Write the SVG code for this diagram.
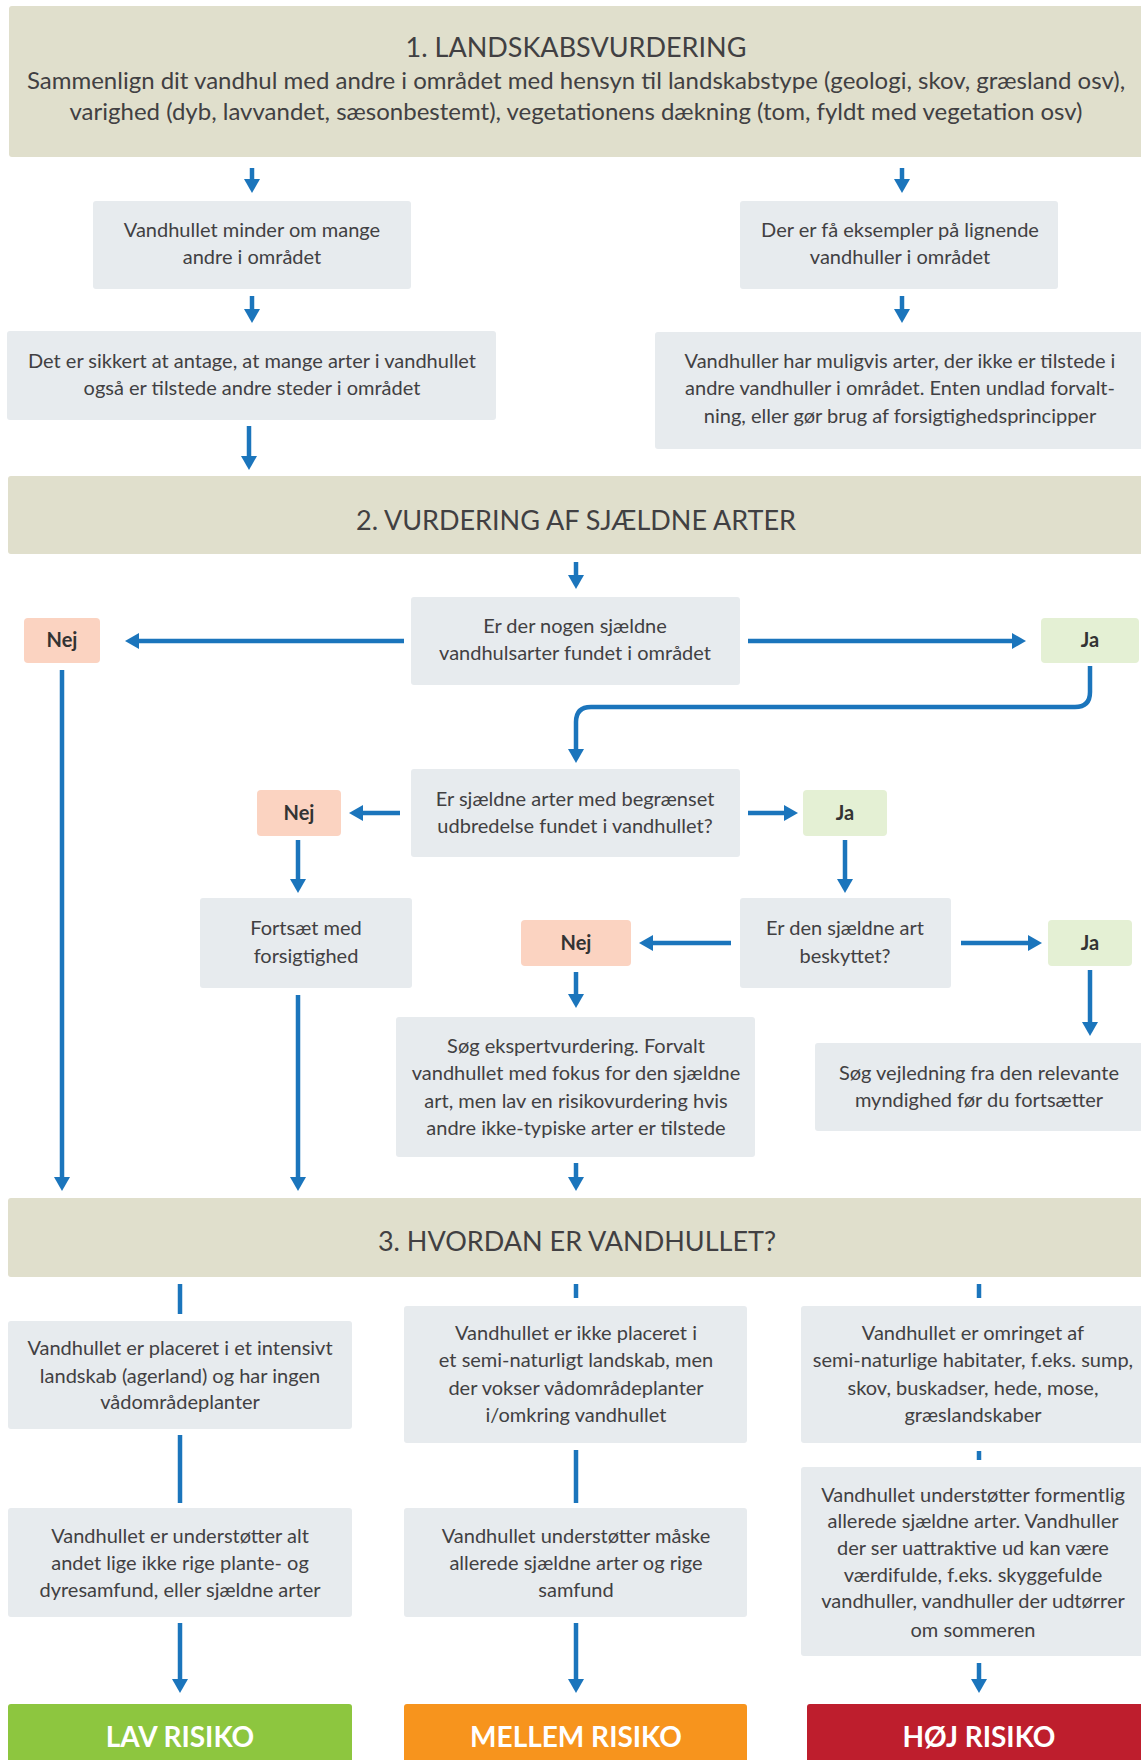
<svg xmlns="http://www.w3.org/2000/svg" width="1141" height="1760" viewBox="0 0 1141 1760">
<style>
.hdr{fill:#e0dfcc}
.box{fill:#e7ebee}
.nej{fill:#fbd3c1}
.ja{fill:#e4f0d4}
text{font-family:Lato,"Liberation Sans",sans-serif;fill:#414042;text-anchor:middle}
.t{font-size:20px}
.h{font-size:27px}
.hs{font-size:24px}
.lab{font-size:20px;font-weight:bold;fill:#333}
.risk{font-size:28px;font-weight:bold;fill:#fff}
.c{fill:none;stroke:#1b75bc;stroke-width:4.5}
.a{marker-end:url(#ah)}
</style>
<defs>
<marker id="ah" viewBox="0 0 14 16" markerWidth="14" markerHeight="16" refX="4" refY="8" orient="auto" markerUnits="userSpaceOnUse">
<path d="M0,0 L14,8 L0,16 z" fill="#1b75bc"/>
</marker>
</defs>

<g id="connectors">
<line class="c a" x1="252" y1="168" x2="252" y2="183"/>
<line class="c a" x1="902" y1="168" x2="902" y2="183"/>
<line class="c a" x1="252" y1="296" x2="252" y2="313"/>
<line class="c a" x1="902" y1="296" x2="902" y2="313"/>
<line class="c a" x1="249" y1="426" x2="249" y2="460"/>
<line class="c a" x1="576" y1="562" x2="576" y2="579"/>
<line class="c a" x1="404" y1="641" x2="135" y2="641"/>
<line class="c a" x1="748" y1="641" x2="1016" y2="641"/>
<line class="c a" x1="62" y1="670" x2="62" y2="1181"/>
<path class="c a" d="M1090,666 V692 Q1090,707 1075,707 H591 Q576,707 576,722 V753"/>
<line class="c a" x1="400" y1="813" x2="359" y2="813"/>
<line class="c a" x1="748" y1="813" x2="788" y2="813"/>
<line class="c a" x1="298" y1="840" x2="298" y2="883"/>
<line class="c a" x1="845" y1="840" x2="845" y2="883"/>
<line class="c a" x1="731" y1="943" x2="649" y2="943"/>
<line class="c a" x1="961" y1="943" x2="1032" y2="943"/>
<line class="c a" x1="576" y1="972" x2="576" y2="998"/>
<line class="c a" x1="1090" y1="970" x2="1090" y2="1026"/>
<line class="c a" x1="298" y1="995" x2="298" y2="1181"/>
<line class="c a" x1="576" y1="1163" x2="576" y2="1181"/>
<line class="c" x1="180" y1="1284" x2="180" y2="1314"/>
<line class="c" x1="576" y1="1284" x2="576" y2="1298"/>
<line class="c" x1="979" y1="1284" x2="979" y2="1298"/>
<line class="c" x1="180" y1="1435" x2="180" y2="1503"/>
<line class="c" x1="576" y1="1450" x2="576" y2="1503"/>
<line class="c" x1="979" y1="1451" x2="979" y2="1460"/>
<line class="c a" x1="180" y1="1623" x2="180" y2="1683"/>
<line class="c a" x1="576" y1="1623" x2="576" y2="1683"/>
<line class="c a" x1="979" y1="1663" x2="979" y2="1683"/>
</g>

<g id="header1">
<rect class="hdr" x="9" y="6" width="1140" height="151" rx="3"/>
<text class="h" x="576" y="57">1. LANDSKABSVURDERING</text>
<text class="hs" x="576" y="89">Sammenlign dit vandhul med andre i området med hensyn til landskabstype (geologi, skov, græsland osv),</text>
<text class="hs" x="576" y="120">varighed (dyb, lavvandet, sæsonbestemt), vegetationens dækning (tom, fyldt med vegetation osv)</text>
</g>

<g id="a1">
<rect class="box" x="93" y="201" width="318" height="88" rx="3"/>
<text class="t" x="252" y="237">Vandhullet minder om mange</text>
<text class="t" x="252" y="264">andre i området</text>
</g>
<g id="b1">
<rect class="box" x="740" y="201" width="318" height="88" rx="3"/>
<text class="t" x="900" y="237">Der er få eksempler på lignende</text>
<text class="t" x="900" y="264">vandhuller i området</text>
</g>
<g id="a2">
<rect class="box" x="7" y="331" width="489" height="89" rx="3"/>
<text class="t" x="252" y="368">Det er sikkert at antage, at mange arter i vandhullet</text>
<text class="t" x="252" y="395">også er tilstede andre steder i området</text>
</g>
<g id="b2">
<rect class="box" x="655" y="332" width="490" height="117" rx="3"/>
<text class="t" x="900" y="368">Vandhuller har muligvis arter, der ikke er tilstede i</text>
<text class="t" x="900" y="395">andre vandhuller i området. Enten undlad forvalt-</text>
<text class="t" x="900" y="423">ning, eller gør brug af forsigtighedsprincipper</text>
</g>

<g id="header2">
<rect class="hdr" x="8" y="476" width="1140" height="78" rx="3"/>
<text class="h" x="576" y="530">2. VURDERING AF SJÆLDNE ARTER</text>
</g>

<g id="q1">
<rect class="box" x="411" y="597" width="329" height="88" rx="3"/>
<text class="t" x="575" y="633">Er der nogen sjældne</text>
<text class="t" x="575" y="660">vandhulsarter fundet i området</text>
</g>
<g id="nej1">
<rect class="nej" x="24" y="618" width="76" height="45" rx="4"/>
<text class="lab" x="62" y="647">Nej</text>
</g>
<g id="ja1">
<rect class="ja" x="1041" y="618" width="98" height="45" rx="4"/>
<text class="lab" x="1090" y="647">Ja</text>
</g>

<g id="q2">
<rect class="box" x="411" y="769" width="329" height="88" rx="3"/>
<text class="t" x="575" y="806">Er sjældne arter med begrænset</text>
<text class="t" x="575" y="833">udbredelse fundet i vandhullet?</text>
</g>
<g id="nej2">
<rect class="nej" x="257" y="790" width="84" height="46" rx="4"/>
<text class="lab" x="299" y="820">Nej</text>
</g>
<g id="ja2">
<rect class="ja" x="803" y="790" width="84" height="46" rx="4"/>
<text class="lab" x="845" y="820">Ja</text>
</g>

<g id="f">
<rect class="box" x="200" y="898" width="212" height="90" rx="3"/>
<text class="t" x="306" y="935">Fortsæt med</text>
<text class="t" x="306" y="963">forsigtighed</text>
</g>
<g id="q3">
<rect class="box" x="740" y="898" width="211" height="90" rx="3"/>
<text class="t" x="845" y="935">Er den sjældne art</text>
<text class="t" x="845" y="963">beskyttet?</text>
</g>
<g id="nej3">
<rect class="nej" x="521" y="920" width="110" height="46" rx="4"/>
<text class="lab" x="576" y="950">Nej</text>
</g>
<g id="ja3">
<rect class="ja" x="1048" y="920" width="84" height="46" rx="4"/>
<text class="lab" x="1090" y="950">Ja</text>
</g>

<g id="s">
<rect class="box" x="396" y="1017" width="359" height="140" rx="3"/>
<text class="t" x="576" y="1053">Søg ekspertvurdering. Forvalt</text>
<text class="t" x="576" y="1080">vandhullet med fokus for den sjældne</text>
<text class="t" x="576" y="1108">art, men lav en risikovurdering hvis</text>
<text class="t" x="576" y="1135">andre ikke-typiske arter er tilstede</text>
</g>
<g id="v">
<rect class="box" x="815" y="1043" width="330" height="88" rx="3"/>
<text class="t" x="979" y="1080">Søg vejledning fra den relevante</text>
<text class="t" x="979" y="1107">myndighed før du fortsætter</text>
</g>

<g id="header3">
<rect class="hdr" x="8" y="1198" width="1140" height="79" rx="3"/>
<text class="h" x="577" y="1251">3. HVORDAN ER VANDHULLET?</text>
</g>

<g id="l1">
<rect class="box" x="8" y="1321" width="344" height="108" rx="3"/>
<text class="t" x="180" y="1355">Vandhullet er placeret i et intensivt</text>
<text class="t" x="180" y="1383">landskab (agerland) og har ingen</text>
<text class="t" x="180" y="1409">vådområdeplanter</text>
</g>
<g id="m1">
<rect class="box" x="404" y="1306" width="343" height="137" rx="3"/>
<text class="t" x="576" y="1340">Vandhullet er ikke placeret i</text>
<text class="t" x="576" y="1367">et semi-naturligt landskab, men</text>
<text class="t" x="576" y="1395">der vokser  vådområdeplanter</text>
<text class="t" x="576" y="1422">i/omkring vandhullet</text>
</g>
<g id="h1">
<rect class="box" x="801" y="1306" width="344" height="137" rx="3"/>
<text class="t" x="973" y="1340">Vandhullet er omringet af</text>
<text class="t" x="973" y="1367">semi-naturlige habitater, f.eks. sump,</text>
<text class="t" x="973" y="1395">skov, buskadser, hede, mose,</text>
<text class="t" x="973" y="1422">græslandskaber</text>
</g>

<g id="l2">
<rect class="box" x="8" y="1508" width="344" height="109" rx="3"/>
<text class="t" x="180" y="1543">Vandhullet er understøtter alt</text>
<text class="t" x="180" y="1570">andet lige ikke rige plante- og</text>
<text class="t" x="180" y="1597">dyresamfund, eller sjældne arter</text>
</g>
<g id="m2">
<rect class="box" x="404" y="1508" width="343" height="109" rx="3"/>
<text class="t" x="576" y="1543">Vandhullet understøtter måske</text>
<text class="t" x="576" y="1570">allerede sjældne arter og rige</text>
<text class="t" x="576" y="1597">samfund</text>
</g>
<g id="h2">
<rect class="box" x="801" y="1467" width="344" height="189" rx="3"/>
<text class="t" x="973" y="1502">Vandhullet understøtter formentlig</text>
<text class="t" x="973" y="1528">allerede sjældne arter. Vandhuller</text>
<text class="t" x="973" y="1555">der ser uattraktive ud kan være</text>
<text class="t" x="973" y="1582">værdifulde, f.eks. skyggefulde</text>
<text class="t" x="973" y="1608">vandhuller, vandhuller der udtørrer</text>
<text class="t" x="973" y="1637">om sommeren</text>
</g>

<g id="lav">
<rect x="8" y="1704" width="344" height="70" rx="3" fill="#8dc63f"/>
<text class="risk" x="180" y="1747">LAV RISIKO</text>
</g>
<g id="mellem">
<rect x="404" y="1704" width="343" height="70" rx="3" fill="#f7941d"/>
<text class="risk" x="576" y="1747">MELLEM RISIKO</text>
</g>
<g id="hoj">
<rect x="807" y="1704" width="340" height="70" rx="3" fill="#be1e2d"/>
<text class="risk" x="979" y="1747">HØJ RISIKO</text>
</g>
</svg>
